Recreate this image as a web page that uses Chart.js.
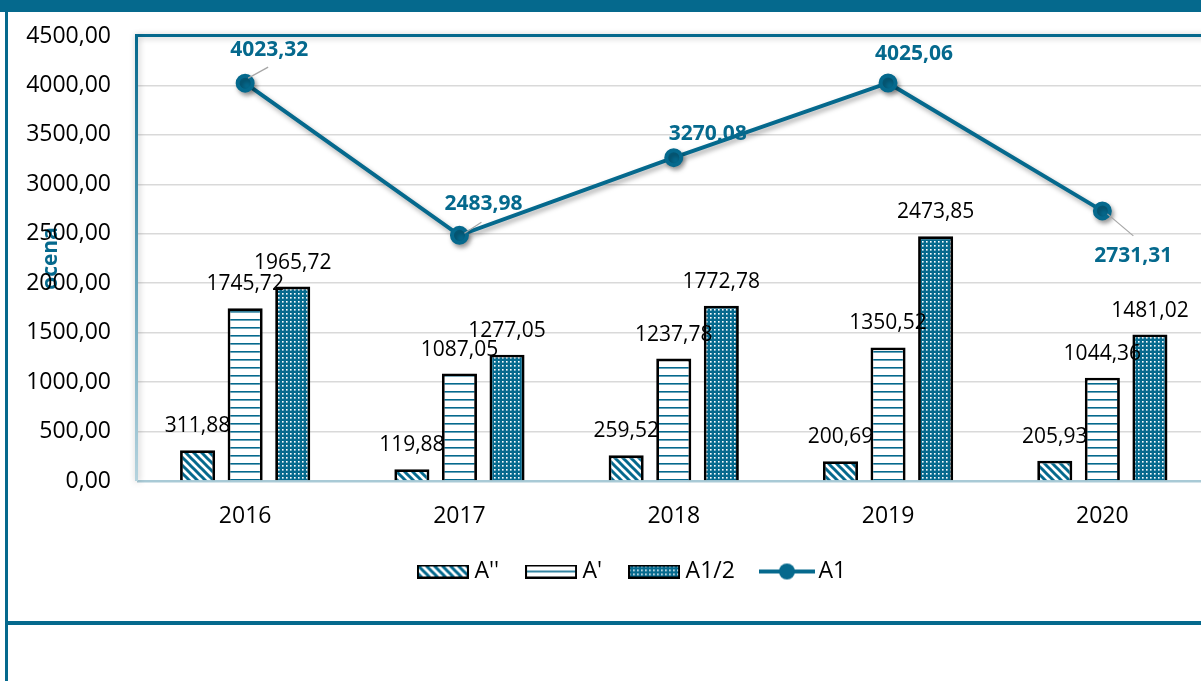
<!DOCTYPE html>
<html><head><meta charset="utf-8">
<script src="https://cdn.jsdelivr.net/npm/chart.js@4.4.0/dist/chart.umd.min.js"></script>
<style>
html,body{margin:0;padding:0;width:1201px;height:681px;overflow:hidden;background:#fff;}
#topband{position:absolute;left:0;top:0;width:1201px;height:12px;background:#05698d;}
#leftband{position:absolute;left:5px;top:0;width:3px;height:681px;background:#05698d;}
#hline{position:absolute;left:5px;top:621px;width:1196px;height:4px;background:#05698d;}
#wrap{position:absolute;left:9px;top:12px;width:1212px;height:609px;}
</style></head><body>
<div id="topband"></div><div id="leftband"></div><div id="hline"></div>
<div id="wrap"><canvas id="c"></canvas></div>
<script>
const categories = ['2016', '2017', '2018', '2019', '2020'];
const seriesNames = ["A''", "A'", 'A1/2', 'A1'];
const valuesA2 = [311.88, 119.88, 259.52, 200.69, 205.93];
const valuesA = [1745.72, 1087.05, 1237.78, 1350.52, 1044.36];
const valuesAHalf = [1965.72, 1277.05, 1772.78, 2473.85, 1481.02];
const valuesA1 = [4023.32, 2483.98, 3270.08, 4025.06, 2731.31];
const yTickValues = [0, 500, 1000, 1500, 2000, 2500, 3000, 3500, 4000, 4500];
const yTitle = 'ocena';

const TEAL = '#05698d';
const fmt = v => v.toFixed(2).replace('.', ',');

function mk(w, h, fn) { const c = document.createElement('canvas'); c.width = w; c.height = h; fn(c.getContext('2d')); return c; }
const tileStripes = mk(8, 8, g => {
  g.fillStyle = '#fff'; g.fillRect(0, 0, 8, 8);
  g.strokeStyle = TEAL; g.lineWidth = 3; g.lineCap = 'square';
  [-8, 0, 8].forEach(o => { g.beginPath(); g.moveTo(o, 0); g.lineTo(o + 8, 8); g.stroke(); });
});
const tileLines = mk(8, 8, g => { g.fillStyle = '#fff'; g.fillRect(0, 0, 8, 8); g.fillStyle = TEAL; g.fillRect(0, 3, 8, 1.6); });
const tileDots = mk(4, 4, g => { g.fillStyle = TEAL; g.fillRect(0, 0, 4, 4); g.fillStyle = '#fff'; g.fillRect(1, 1, 1.6, 1.6); });

function draw() {
  const cctx = document.getElementById('c').getContext('2d');
  const patStripes = cctx.createPattern(tileStripes, 'repeat');
  const patLines = cctx.createPattern(tileLines, 'repeat');
  const patDots = cctx.createPattern(tileDots, 'repeat');

  const boxIcon = (fill, single) => mk(52, 14, g => {
    if (single) { g.fillStyle = '#fff'; g.fillRect(0, 0, 52, 14); g.fillStyle = TEAL; g.fillRect(1, 6.2, 50, 1.6); }
    else { g.fillStyle = g.createPattern(fill, 'repeat'); g.fillRect(0, 0, 52, 14); }
    g.strokeStyle = '#000'; g.lineWidth = 2; g.strokeRect(1, 1, 50, 12);
  });
  const lineIcon = mk(56, 18, g => {
    g.strokeStyle = TEAL; g.lineWidth = 4; g.beginPath(); g.moveTo(0, 9); g.lineTo(56, 9); g.stroke();
    g.fillStyle = TEAL; g.beginPath(); g.arc(28, 9, 8, 0, Math.PI * 2); g.fill();
  });
  const legendIcons = [boxIcon(tileStripes), boxIcon(null, true), boxIcon(tileDots), lineIcon];

  const plotDecor = {
    id: 'plotDecor',
    beforeDatasetsDraw(chart) {
      const { ctx, chartArea: a } = chart;
      ctx.save();
      ctx.shadowColor = 'rgba(0,0,0,0.25)'; ctx.shadowBlur = 6; ctx.shadowOffsetX = 1; ctx.shadowOffsetY = 1;
      ctx.strokeStyle = TEAL; ctx.lineWidth = 3;
      ctx.beginPath(); ctx.moveTo(a.left - 1.5, a.top - 0.5); ctx.lineTo(a.right + 15, a.top - 0.5); ctx.stroke();
      const grd = ctx.createLinearGradient(0, a.top, 0, a.bottom);
      grd.addColorStop(0, TEAL); grd.addColorStop(1, '#b5d3de');
      ctx.strokeStyle = grd;
      ctx.beginPath(); ctx.moveTo(a.left - 1.5, a.top - 2); ctx.lineTo(a.left - 1.5, a.bottom); ctx.stroke();
      ctx.restore();
    },
    beforeDatasetDraw(chart, args) {
      if (chart.getDatasetMeta(args.index).type === 'line') {
        const ctx = chart.ctx; ctx.save();
        ctx.shadowColor = 'rgba(0,0,0,0.35)'; ctx.shadowBlur = 5; ctx.shadowOffsetX = 2; ctx.shadowOffsetY = 3;
      }
    },
    afterDatasetDraw(chart, args) {
      if (chart.getDatasetMeta(args.index).type === 'line') chart.ctx.restore();
    },
    afterLayout(chart, args, opts) {
      chart.legend.left += opts.legendShift; chart.legend.right += opts.legendShift;
    }
  };

  const valueLabels = {
    id: 'valueLabels',
    afterDatasetsDraw(chart, args, opts) {
      const ctx = chart.ctx;
      ctx.save();
      chart.data.datasets.forEach((ds, di) => {
        const meta = chart.getDatasetMeta(di);
        if (meta.type === 'bar') {
          ctx.font = '21px "Open Sans"'; ctx.fillStyle = '#000';
          ctx.textAlign = 'center'; ctx.textBaseline = 'alphabetic';
          meta.data.forEach((el, i) => ctx.fillText(fmt(ds.data[i]), el.x, el.y - 18));
        } else {
          meta.data.forEach((el, i) => {
            const ld = opts.leaders[i];
            if (ld) {
              ctx.strokeStyle = '#a6a6a6'; ctx.lineWidth = 1.2;
              ctx.beginPath(); ctx.moveTo(el.x + ld[0], el.y + ld[1]); ctx.lineTo(el.x + ld[2], el.y + ld[3]); ctx.stroke();
            }
            const o = opts.lineOffsets[i];
            ctx.font = 'bold 21px "Open Sans"'; ctx.fillStyle = TEAL;
            ctx.textAlign = 'center'; ctx.textBaseline = 'middle';
            ctx.fillText(fmt(ds.data[i]), el.x + o[0], el.y + o[1]);
          });
        }
      });
      ctx.restore();
    }
  };

  Chart.defaults.font.family = '"Open Sans", sans-serif';
  Chart.defaults.color = '#000';

  new Chart(cctx, {
    data: {
      labels: categories,
      datasets: [
        { type: 'bar', label: seriesNames[0], data: valuesA2, backgroundColor: patStripes, borderColor: '#000', borderWidth: 2.8, order: 1 },
        { type: 'bar', label: seriesNames[1], data: valuesA, backgroundColor: patLines, borderColor: '#000', borderWidth: 2.8, order: 1 },
        { type: 'bar', label: seriesNames[2], data: valuesAHalf, backgroundColor: patDots, borderColor: '#000', borderWidth: 2.8, order: 1 },
        { type: 'line', label: seriesNames[3], data: valuesA1, borderColor: TEAL, backgroundColor: TEAL, borderWidth: 4,
          pointRadius: 7.5, pointBackgroundColor: TEAL, pointBorderColor: TEAL, tension: 0, order: 0 }
      ]
    },
    options: {
      responsive: true, maintainAspectRatio: false, animation: false,
      layout: { padding: { top: 24, right: 1, bottom: 28, left: 0 } },
      datasets: { bar: { barPercentage: 0.737, categoryPercentage: 0.666 } },
      scales: {
        x: {
          grid: { display: false, drawTicks: true, tickLength: 22, tickColor: 'rgba(0,0,0,0)' },
          border: { display: true, color: '#a9cad6', width: 2.5 },
          ticks: { font: { size: 23 }, color: '#000', padding: 0 },
          afterFit: s => { s.height = 47; }
        },
        y: {
          min: 0, max: 4500,
          afterBuildTicks: s => { s.ticks = yTickValues.map(v => ({ value: v })); },
          grid: { drawTicks: true, tickLength: 27, tickColor: 'rgba(0,0,0,0)', lineWidth: 1.5,
                  color: c => (c.tick && c.tick.value === 0) ? 'rgba(0,0,0,0)' : '#d9d9d9' },
          border: { display: false },
          ticks: { font: { size: 23 }, color: '#000', padding: 0, callback: v => fmt(v) },
          title: { display: true, text: yTitle, color: TEAL, font: { size: 21, weight: 'bold' }, padding: { top: 29, bottom: 0 } },
          afterFit: s => { s.width = 129; }
        }
      },
      plugins: {
        tooltip: { enabled: false },
        legend: {
          position: 'bottom',
          labels: {
            usePointStyle: true, pointStyleWidth: 40, padding: 32, color: '#000', font: { size: 23 },
            sort: (a, b) => a.datasetIndex - b.datasetIndex,
            generateLabels: chart => {
              const items = Chart.defaults.plugins.legend.labels.generateLabels(chart);
              items.forEach(it => { it.pointStyle = legendIcons[it.datasetIndex]; });
              return items;
            }
          }
        },
        plotDecor: { legendShift: 20 },
        valueLabels: {
          lineOffsets: [[24, -33], [24, -31], [34, -24], [26, -29], [31, 45]],
          leaders: [[3, -5, 23, -16], [5, -2, 22, -13], null, null, [5, 3, 31, 25]]
        }
      }
    },
    plugins: [plotDecor, valueLabels]
  });
}

Promise.all([
  document.fonts.load('23px "Open Sans"'),
  document.fonts.load('bold 21px "Open Sans"')
]).then(draw, draw);
</script>
</body></html>
